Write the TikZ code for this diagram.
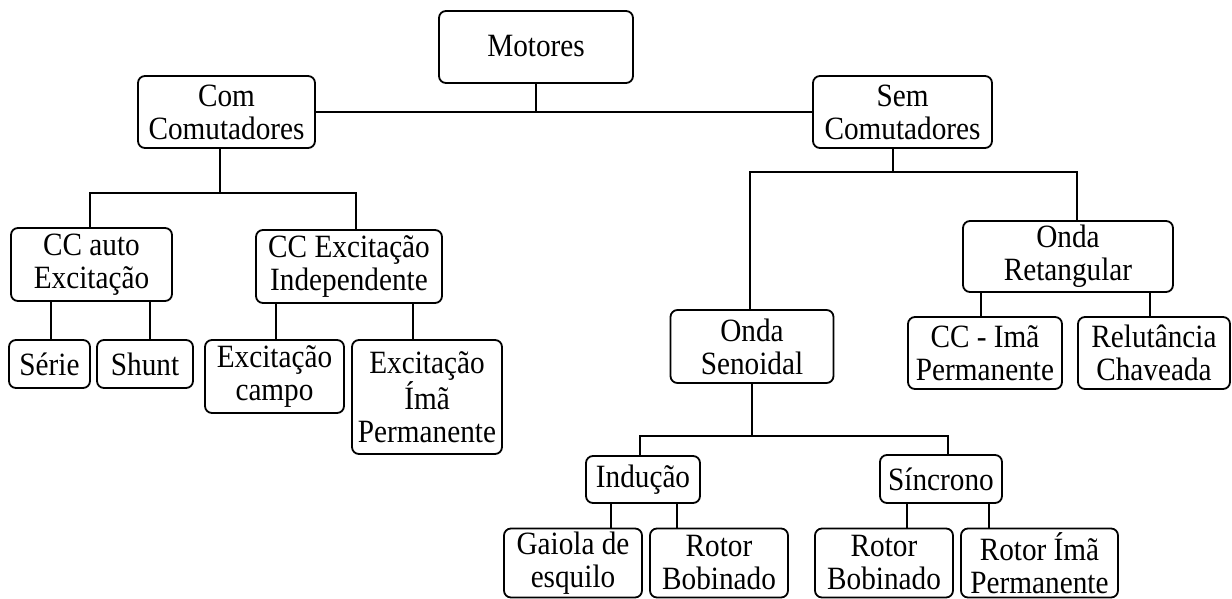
\documentclass[tikz,border=0pt]{standalone}
\usepackage{fontspec}
\setmainfont{Liberation Serif}[FakeStretch=0.9]
\begin{document}
\begin{tikzpicture}[x=1pt,y=-1pt,
  box/.style={draw, line width=1.8pt, rounded corners=7pt, inner sep=0pt, align=center,
    font=\fontsize{32.5}{33}\selectfont},
  conn/.style={line width=1.8pt}]
\useasboundingbox (0,0) rectangle (1232,599);
% nodes
\node[box, minimum width=194pt, minimum height=72pt] (mot) at (536,47) {\raisebox{3pt}{Motores}};
\node[box, minimum width=177pt, minimum height=72pt] (com) at (226.5,112) {Com\\Comutadores};
\node[box, minimum width=179pt, minimum height=72pt] (sem) at (902.5,112) {Sem\\Comutadores};
\node[box, minimum width=161pt, minimum height=73pt] (ccauto) at (91.5,264.5) {CC auto\\Excitação};
\node[box, minimum width=186pt, minimum height=73pt] (ccind) at (349,266.5) {CC Excitação\\Independente};
\node[box, minimum width=81pt, minimum height=48pt] (serie) at (49.5,364) {Série};
\node[box, minimum width=96pt, minimum height=48pt] (shunt) at (145,364) {Shunt};
\node[box, minimum width=139pt, minimum height=73pt] (exccampo) at (274.5,376.5) {Excitação\\campo};
\node[box, minimum width=150pt, minimum height=114pt] (excima) at (427,397) {Excitação\\Ímã\\Permanente};
\node[box, minimum width=210pt, minimum height=71pt] (ondaret) at (1068,256.5) {Onda\\Retangular};
\node[box, minimum width=154pt, minimum height=72pt] (ccima) at (985,353) {CC - Imã\\Permanente};
\node[box, minimum width=152pt, minimum height=72pt] (relut) at (1154,353) {Relutância\\Chaveada};
\node[box, minimum width=163pt, minimum height=73pt] (ondasen) at (752,346.5) {Onda\\Senoidal};
\node[box, minimum width=114pt, minimum height=47pt] (inducao) at (643,479.5) {Indução};
\node[box, minimum width=122pt, minimum height=48pt] (sincrono) at (941,479) {Síncrono};
\node[box, minimum width=138pt, minimum height=69pt] (gaiola) at (573,563) {Gaiola de\\esquilo};
\node[box, minimum width=138pt, minimum height=69pt] (rotbob1) at (719,563) {Rotor\\Bobinado};
\node[box, minimum width=138pt, minimum height=69pt] (rotbob2) at (884,563) {Rotor\\Bobinado};
\node[box, minimum width=157pt, minimum height=69pt] (rotima) at (1039.5,563) {Rotor Ímã\\Permanente};
% bus coordinates
\coordinate (b1) at (220,193);
\coordinate (b2) at (893,172);
\coordinate (b3) at (752,436);
% connectors
\draw[conn] (mot.south) -- (mot.south |- com.east);
\draw[conn] (com.east) -- (sem.west);
\draw[conn] ([xshift=-6.5pt]com.south) -- (b1);
\draw[conn] ([xshift=-1.5pt]ccauto.north) |- (b1) -| ([xshift=7pt]ccind.north);
\draw[conn] ([xshift=1.5pt]serie.north) -- ([xshift=1.5pt]serie.north |- ccauto.south);
\draw[conn] ([xshift=5pt]shunt.north) -- ([xshift=5pt]shunt.north |- ccauto.south);
\draw[conn] ([xshift=1.5pt]exccampo.north) -- ([xshift=1.5pt]exccampo.north |- ccind.south);
\draw[conn] ([xshift=-14pt]excima.north) -- ([xshift=-14pt]excima.north |- ccind.south);
\draw[conn] ([xshift=-9.5pt]sem.south) -- (b2);
\draw[conn] ([xshift=-2pt]ondasen.north) |- (b2) -| ([xshift=9pt]ondaret.north);
\draw[conn] ([xshift=-4pt]ccima.north) -- ([xshift=-4pt]ccima.north |- ondaret.south);
\draw[conn] ([xshift=-4pt]relut.north) -- ([xshift=-4pt]relut.north |- ondaret.south);
\draw[conn] (ondasen.south) -- (b3);
\draw[conn] ([xshift=-3pt]inducao.north) |- (b3) -| ([xshift=7pt]sincrono.north);
\draw[conn] ([xshift=38pt]gaiola.north) -- ([xshift=38pt]gaiola.north |- inducao.south);
\draw[conn] ([xshift=-42pt]rotbob1.north) -- ([xshift=-42pt]rotbob1.north |- inducao.south);
\draw[conn] ([xshift=23pt]rotbob2.north) -- ([xshift=23pt]rotbob2.north |- sincrono.south);
\draw[conn] ([xshift=-50.5pt]rotima.north) -- ([xshift=-50.5pt]rotima.north |- sincrono.south);
\end{tikzpicture}
\end{document}
